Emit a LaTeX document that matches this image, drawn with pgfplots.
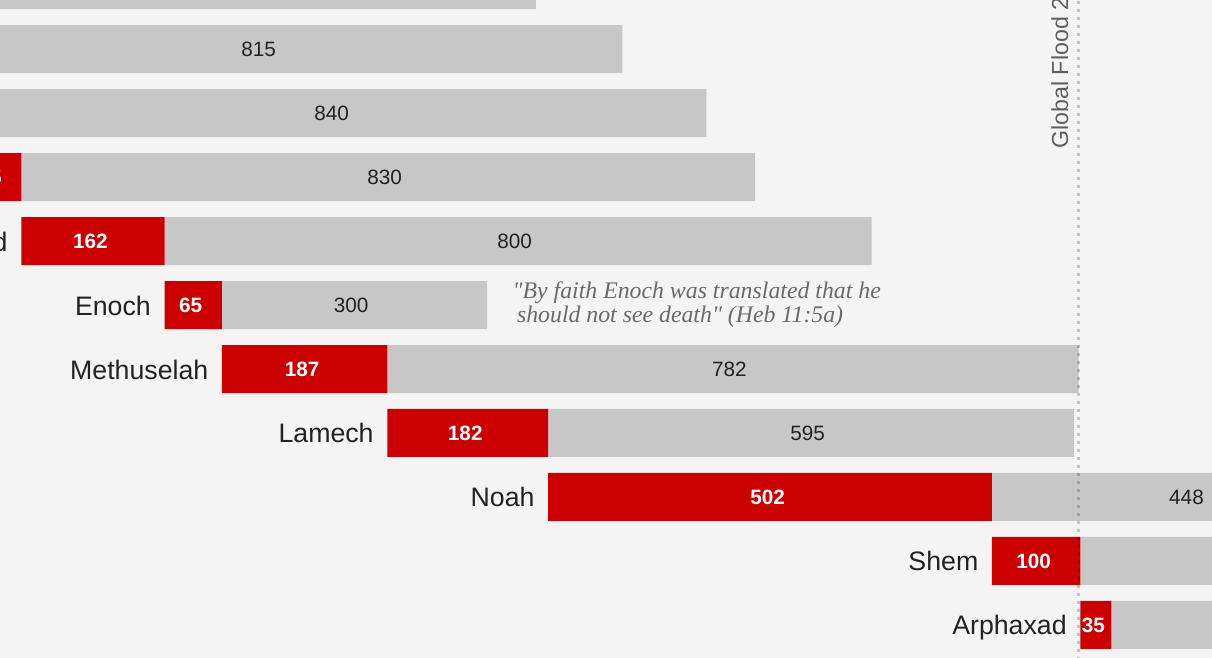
\documentclass[border=0pt]{standalone}
\usepackage{pgfplots}
\pgfplotsset{compat=1.18}
\usepackage{pgfplotstable}
\usepackage{fontspec}
\setmainfont{Liberation Sans}
\newfontfamily\quotefont{Liberation Serif}
\definecolor{bg}{HTML}{F4F4F4}
\definecolor{barred}{HTML}{CC0000}
\definecolor{bargray}{HTML}{C7C7C7}
\definecolor{txt}{HTML}{222222}
\definecolor{floodgray}{HTML}{5E5E5E}
\definecolor{quotegray}{HTML}{6A6A6A}

% row: position from top; start: year of birth (AM); red: age at son's birth; gray: remaining years
\pgfplotstableread{
name row start red gray
Adam 0 0 130 800
Seth 1 130 105 807
Enosh 2 235 90 815
Kenan 3 325 70 840
Mahalalel 4 395 65 830
Jared 5 460 162 800
Enoch 6 622 65 300
Methuselah 7 687 187 782
Lamech 8 874 182 595
Noah 9 1056 502 448
Shem 10 1558 100 500
Arphaxad 11 1658 35 403
}\gen

\pgfplotsset{timeline/.style={
  scale only axis, width=12.12cm, height=6.58cm,
  at={(0,0)}, anchor=south west,
  xmin=435.9, xmax=1806.9, ymin=1.234, ymax=11.516,
  y dir=reverse, hide axis, clip=false}}

\begin{document}
\begin{tikzpicture}
\useasboundingbox (0,0) rectangle (12.12cm,6.58cm);
\clip (0,0) rectangle (12.12cm,6.58cm);
\fill[bg] (0,0) rectangle (12.12cm,6.58cm);

\begin{axis}[timeline, xbar stacked, bar width=4.8mm]
\addplot[draw=none, fill=none] table[x=start, y=row]{\gen};
\addplot[draw=none, fill=barred] table[x=red, y=row]{\gen};
\addplot[draw=none, fill=bargray] table[x=gray, y=row]{\gen};
\end{axis}

\begin{axis}[timeline]
% flood line
\addplot[black, opacity=0.2, line width=0.3mm, dash pattern=on 0.3mm off 0.5mm]
  coordinates {(1656,0) (1656,13)};
% names
\addplot[draw=none, mark=none, nodes near coords, point meta=explicit symbolic,
  every node near coord/.append style={anchor=base east, xshift=-1.3mm, yshift=-1mm,
    inner sep=0pt, font=\fontsize{7.6}{9}\selectfont, text=txt}]
  table[x=start, y=row, meta=name]{\gen};
% red values
\addplot[draw=none, mark=none, nodes near coords, point meta=explicit symbolic,
  every node near coord/.append style={anchor=center, xshift=-0.25mm,
    inner sep=0pt, font=\fontsize{5.9}{7}\selectfont\bfseries, text=white}]
  table[x expr=\thisrow{start}+0.5*\thisrow{red}, y=row, meta=red]{\gen};
% gray values
\addplot[draw=none, mark=none, nodes near coords, point meta=explicit symbolic,
  every node near coord/.append style={anchor=center, xshift=-0.35mm,
    inner sep=0pt, font=\fontsize{5.9}{7}\selectfont, text=txt}]
  table[x expr=\thisrow{start}+\thisrow{red}+0.5*\thisrow{gray}, y=row, meta=gray]{\gen};

\node[rotate=90, anchor=base west, inner sep=0pt, text=floodgray,
  font=\fontsize{6.6}{8}\selectfont] at (axis cs:1644,3.565) {Global Flood 2348 BC};
\node[anchor=base west, inner sep=0pt, text=quotegray,
  font=\quotefont\itshape\fontsize{6.77}{8}\selectfont] at (axis cs:1015,5.891)
  {"By faith Enoch was translated that he};
\node[anchor=base west, inner sep=0pt, text=quotegray,
  font=\quotefont\itshape\fontsize{6.77}{8}\selectfont] at (axis cs:1020,6.281)
  {should not see death" (Heb 11:5a)};
\end{axis}
\end{tikzpicture}
\end{document}
